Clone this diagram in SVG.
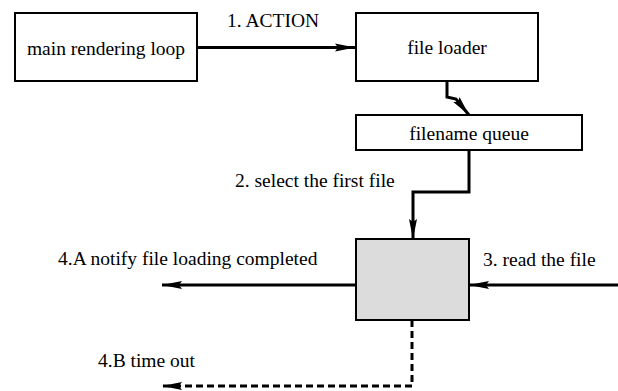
<svg xmlns="http://www.w3.org/2000/svg" width="618" height="391" viewBox="0 0 618 391">
<style>
.box{fill:#fff;stroke:#000;stroke-width:2}
.gray{fill:#dcdcdc;stroke:#000;stroke-width:2}
.c{fill:none;stroke:#000;stroke-width:3}
.d{stroke-dasharray:7 4}
</style>
<defs>
<marker id="ah" markerUnits="userSpaceOnUse" markerWidth="22" markerHeight="12" refX="20" refY="5" orient="auto" viewBox="0 0 22 10">
<path d="M0,1 L20,5 L0,9 L3,5 Z" fill="#000"/>
</marker>
</defs>
<rect width="618" height="391" fill="#fff"/>
<g id="connectors">
<path class="c" d="M197,47.5 H355" marker-end="url(#ah)"/>
<path class="c" d="M447,81 V97 L456,99 L469,115" marker-end="url(#ah)"/>
<path class="c" d="M469,150 V192 H413 V239" marker-end="url(#ah)"/>
<path class="c" d="M618,285 H469" marker-end="url(#ah)"/>
<path class="c" d="M356,285 H162" marker-end="url(#ah)"/>
<path class="c d" d="M412,320 V386 H162" marker-end="url(#ah)"/>
</g>
<g font-family="'Liberation Serif', 'Times New Roman', serif" font-size="19.5" fill="#000">
<g id="main-rendering-loop">
<rect class="box" x="15" y="13" width="182" height="68"/>
<text x="106" y="55" text-anchor="middle">main rendering loop</text>
</g>
<g id="file-loader">
<rect class="box" x="356" y="13" width="182" height="68"/>
<text x="447" y="54" text-anchor="middle">file loader</text>
</g>
<g id="filename-queue">
<rect class="box" x="356" y="115" width="226" height="35"/>
<text x="469" y="140" text-anchor="middle">filename queue</text>
</g>
<g id="reader">
<rect class="gray" x="356" y="239" width="113" height="81"/>
</g>
<g id="labels">
<text x="227" y="27">1. ACTION</text>
<text x="235" y="187">2. select the first file</text>
<text x="483" y="266">3. read the file</text>
<text x="58" y="265">4.A notify file loading completed</text>
<text x="98" y="367">4.B time out</text>
</g>
</g>
</svg>
